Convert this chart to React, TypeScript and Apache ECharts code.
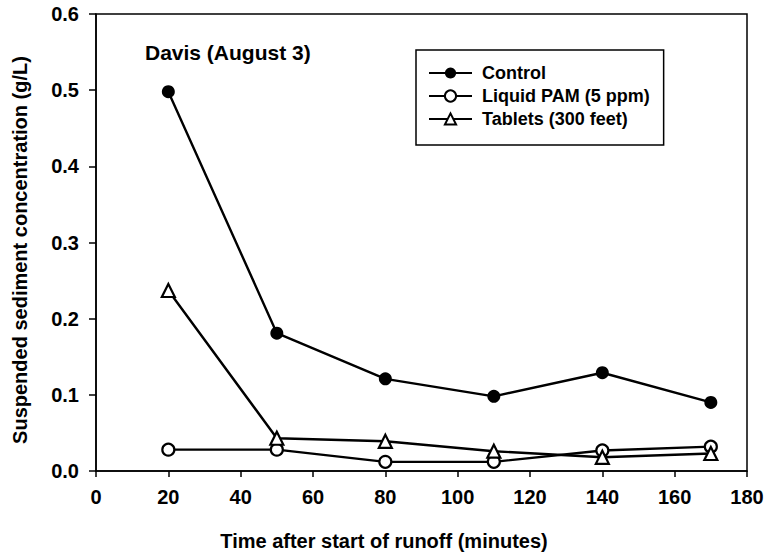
import React, { useEffect, useRef } from "react";
import * as echarts from "echarts";

const times = [20, 50, 80, 110, 140, 170];
const control = [0.498, 0.181, 0.121, 0.098, 0.129, 0.09];
const liquidPam = [0.028, 0.028, 0.012, 0.012, 0.027, 0.032];
const tablets = [0.237, 0.043, 0.039, 0.026, 0.018, 0.023];
const seriesNames = ["Control", "Liquid PAM (5 ppm)", "Tablets (300 feet)"];
const xTitle = "Time after start of runoff (minutes)";
const yTitle = "Suspended sediment concentration (g/L)";

const FONT = "Liberation Sans, Arial, sans-serif";

export default function App() {
  const ref = useRef<HTMLDivElement>(null);
  useEffect(() => {
    if (!ref.current) return;
    const chart = echarts.init(ref.current, undefined, { renderer: "svg" });
    const pairs = (vals: number[]) => times.map((t, i) => [t, vals[i]]);
    const lineStyle = { color: "#000", width: 2.4 };
    chart.setOption({
      animation: false,
      backgroundColor: "#fff",
      grid: {
        left: 96,
        top: 14,
        right: 22,
        bottom: 87,
        show: true,
        borderColor: "#000",
        borderWidth: 1.5,
      },
      legend: {
        orient: "vertical",
        left: 416,
        top: 50,
        padding: [14, 14, 17, 12],
        itemGap: 5,
        itemWidth: 43,
        itemHeight: 14,
        borderColor: "#000",
        borderWidth: 1.5,
        textStyle: {
          fontFamily: FONT,
          fontWeight: "bold",
          fontSize: 18,
          lineHeight: 18,
          color: "#000",
          padding: [0, 0, 0, 5],
        },
        data: seriesNames,
      },
      graphic: [
        {
          type: "text",
          left: 145,
          top: 42,
          style: {
            text: "Davis (August 3)",
            font: `bold 21px ${FONT}`,
            fill: "#000",
          },
        },
        {
          type: "text",
          x: 384,
          y: 541,
          style: {
            text: xTitle,
            font: `bold 20px ${FONT}`,
            fill: "#000",
            align: "center",
            verticalAlign: "middle",
          },
        },
        {
          type: "text",
          x: 20,
          y: 250,
          rotation: Math.PI / 2,
          style: {
            text: yTitle,
            font: `bold 20px ${FONT}`,
            fill: "#000",
            align: "center",
            verticalAlign: "middle",
          },
        },
      ],
      xAxis: {
        type: "value",
        min: 0,
        max: 180,
        interval: 20,
        axisLine: { lineStyle: { color: "#000", width: 1.5 } },
        axisTick: { show: true, inside: false, length: 6, lineStyle: { color: "#000", width: 1.5 } },
        axisLabel: { fontFamily: FONT, fontWeight: "bold", fontSize: 20, color: "#000", margin: 16 },
        splitLine: { show: false },
      },
      yAxis: {
        type: "value",
        min: 0,
        max: 0.6,
        interval: 0.1,
        axisLine: { lineStyle: { color: "#000", width: 1.5 } },
        axisTick: { show: true, inside: false, length: 7, lineStyle: { color: "#000", width: 1.5 } },
        axisLabel: {
          fontFamily: FONT,
          fontWeight: "bold",
          fontSize: 20,
          color: "#000",
          margin: 17,
          formatter: (v: number) => v.toFixed(1),
        },
        splitLine: { show: false },
      },
      series: [
        {
          name: seriesNames[0],
          type: "line",
          data: pairs(control),
          symbol: "circle",
          symbolSize: 13,
          lineStyle,
          itemStyle: { color: "#000", borderColor: "#000", borderWidth: 0 },
        },
        {
          name: seriesNames[1],
          type: "line",
          data: pairs(liquidPam),
          symbol: "circle",
          symbolSize: 12,
          lineStyle,
          itemStyle: { color: "#fff", borderColor: "#000", borderWidth: 2.2 },
          z: 3,
        },
        {
          name: seriesNames[2],
          type: "line",
          data: pairs(tablets),
          symbol: "triangle",
          symbolSize: 13,
          lineStyle,
          itemStyle: { color: "#fff", borderColor: "#000", borderWidth: 2.2 },
          z: 4,
        },
      ],
    });
    return () => chart.dispose();
  }, []);
  return <div ref={ref} style={{ width: 769, height: 558, position: "absolute", left: 0, top: 0 }} />;
}
